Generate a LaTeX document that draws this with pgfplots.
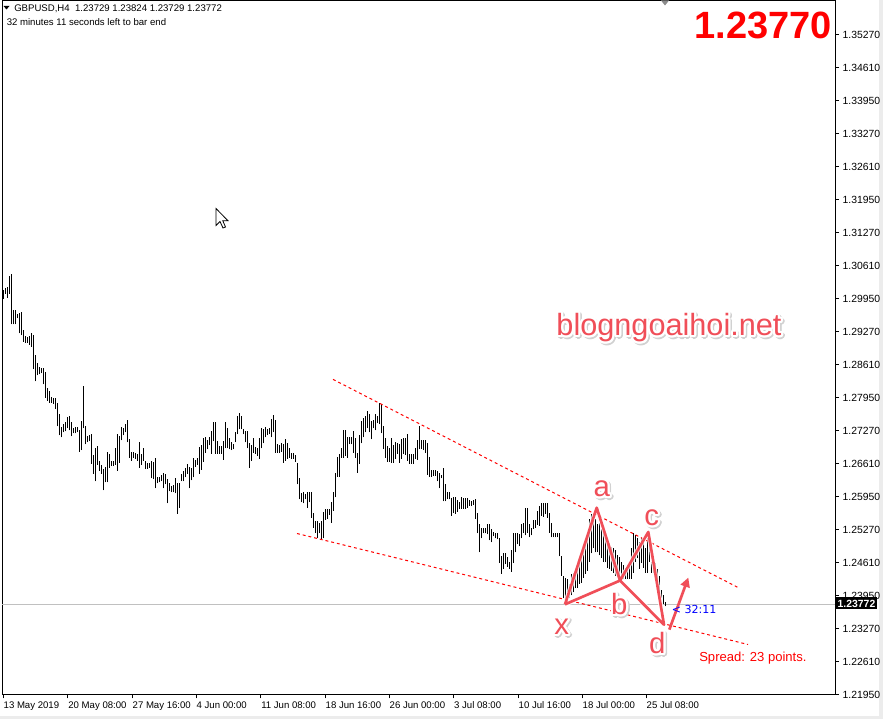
\documentclass[border=0pt]{standalone}
\usepackage{pgfplots}
\pgfplotsset{compat=1.18}
\usepackage{pgfplotstable}
\usepackage{fontspec}
\setmainfont{Liberation Sans}
\newfontfamily\dejavu{DejaVu Sans}
\usepackage[copies]{contour}
\usetikzlibrary{arrows.meta}

\definecolor{mtred}{RGB}{240,78,88}
\definecolor{pricegray}{RGB}{192,192,192}
\definecolor{framegray}{RGB}{236,236,236}

% H4 bars, high and low, index = bar number from 13 May 2019 00:00
\pgfplotstableread{
i hi lo
0 1.3012 1.2994
1 1.3016 1.3004
2 1.3018 1.2996
3 1.3039 1.3004
4 1.3043 1.2942
5 1.2972 1.2942
6 1.2972 1.2942
7 1.2962 1.2954
8 1.2964 1.2924
9 1.2966 1.2920
10 1.2930 1.2907
11 1.2918 1.2905
12 1.2916 1.2905
13 1.2918 1.2901
14 1.2924 1.2897
15 1.2920 1.2851
16 1.2881 1.2827
17 1.2865 1.2839
18 1.2855 1.2841
19 1.2853 1.2843
20 1.2853 1.2821
21 1.2845 1.2794
22 1.2813 1.2788
23 1.2807 1.2784
24 1.2796 1.2784
25 1.2794 1.2782
26 1.2794 1.2772
27 1.2784 1.2736
28 1.2762 1.2718
29 1.2734 1.2714
30 1.2740 1.2724
31 1.2744 1.2726
32 1.2756 1.2732
33 1.2758 1.2728
34 1.2746 1.2716
35 1.2732 1.2722
36 1.2734 1.2722
37 1.2734 1.2724
38 1.2728 1.2685
39 1.2748 1.2688
40 1.2817 1.2732
41 1.2736 1.2700
42 1.2716 1.2704
43 1.2718 1.2706
44 1.2720 1.2661
45 1.2679 1.2641
46 1.2692 1.2625
47 1.2696 1.2659
48 1.2667 1.2647
49 1.2659 1.2641
50 1.2651 1.2607
51 1.2655 1.2623
52 1.2685 1.2623
53 1.2681 1.2653
54 1.2667 1.2657
55 1.2667 1.2657
56 1.2692 1.2659
57 1.2720 1.2647
58 1.2716 1.2663
59 1.2734 1.2708
60 1.2732 1.2718
61 1.2740 1.2724
62 1.2750 1.2704
63 1.2710 1.2673
64 1.2685 1.2667
65 1.2685 1.2673
66 1.2683 1.2671
67 1.2681 1.2667
68 1.2704 1.2653
69 1.2681 1.2659
70 1.2692 1.2667
71 1.2667 1.2651
72 1.2663 1.2651
73 1.2663 1.2653
74 1.2667 1.2631
75 1.2665 1.2629
76 1.2673 1.2611
77 1.2635 1.2621
78 1.2635 1.2623
79 1.2639 1.2625
80 1.2643 1.2611
81 1.2641 1.2619
82 1.2629 1.2581
83 1.2621 1.2605
84 1.2615 1.2603
85 1.2617 1.2603
86 1.2631 1.2601
87 1.2621 1.2560
88 1.2621 1.2572
89 1.2641 1.2625
90 1.2647 1.2625
91 1.2653 1.2633
92 1.2661 1.2641
93 1.2655 1.2611
94 1.2653 1.2627
95 1.2673 1.2633
96 1.2669 1.2655
97 1.2673 1.2659
98 1.2694 1.2641
99 1.2698 1.2649
100 1.2712 1.2665
101 1.2714 1.2683
102 1.2708 1.2690
103 1.2714 1.2698
104 1.2726 1.2681
105 1.2746 1.2706
106 1.2744 1.2681
107 1.2706 1.2681
108 1.2696 1.2681
109 1.2696 1.2681
110 1.2706 1.2669
111 1.2744 1.2692
112 1.2732 1.2692
113 1.2712 1.2690
114 1.2704 1.2688
115 1.2700 1.2690
116 1.2724 1.2704
117 1.2758 1.2720
118 1.2764 1.2730
119 1.2758 1.2730
120 1.2730 1.2720
121 1.2726 1.2704
122 1.2726 1.2692
123 1.2702 1.2653
124 1.2698 1.2667
125 1.2712 1.2683
126 1.2694 1.2681
127 1.2692 1.2677
128 1.2712 1.2671
129 1.2732 1.2692
130 1.2730 1.2702
131 1.2734 1.2714
132 1.2730 1.2718
133 1.2732 1.2720
134 1.2752 1.2714
135 1.2760 1.2724
136 1.2750 1.2683
137 1.2700 1.2683
138 1.2698 1.2683
139 1.2702 1.2685
140 1.2700 1.2663
141 1.2710 1.2667
142 1.2702 1.2671
143 1.2692 1.2673
144 1.2683 1.2671
145 1.2683 1.2671
146 1.2679 1.2665
147 1.2663 1.2619
148 1.2631 1.2589
149 1.2601 1.2583
150 1.2603 1.2581
151 1.2599 1.2589
152 1.2603 1.2572
153 1.2603 1.2583
154 1.2603 1.2552
155 1.2562 1.2532
156 1.2546 1.2522
157 1.2546 1.2510
158 1.2542 1.2520
159 1.2546 1.2508
160 1.2564 1.2510
161 1.2570 1.2548
162 1.2570 1.2550
163 1.2570 1.2558
164 1.2583 1.2542
165 1.2603 1.2566
166 1.2643 1.2593
167 1.2675 1.2635
168 1.2681 1.2635
169 1.2692 1.2673
170 1.2728 1.2673
171 1.2728 1.2677
172 1.2714 1.2673
173 1.2714 1.2700
174 1.2714 1.2700
175 1.2726 1.2683
176 1.2712 1.2673
177 1.2683 1.2643
178 1.2718 1.2661
179 1.2748 1.2702
180 1.2754 1.2714
181 1.2758 1.2724
182 1.2768 1.2732
183 1.2762 1.2724
184 1.2748 1.2710
185 1.2750 1.2732
186 1.2762 1.2728
187 1.2758 1.2742
188 1.2784 1.2740
189 1.2782 1.2722
190 1.2736 1.2690
191 1.2712 1.2673
192 1.2696 1.2665
193 1.2692 1.2665
194 1.2712 1.2663
195 1.2698 1.2663
196 1.2704 1.2671
197 1.2702 1.2681
198 1.2700 1.2663
199 1.2710 1.2671
200 1.2712 1.2681
201 1.2712 1.2679
202 1.2720 1.2667
203 1.2681 1.2661
204 1.2681 1.2661
205 1.2681 1.2661
206 1.2692 1.2671
207 1.2708 1.2669
208 1.2736 1.2690
209 1.2708 1.2690
210 1.2708 1.2688
211 1.2708 1.2683
212 1.2702 1.2639
213 1.2675 1.2635
214 1.2649 1.2635
215 1.2649 1.2637
216 1.2649 1.2637
217 1.2647 1.2625
218 1.2643 1.2611
219 1.2639 1.2631
220 1.2653 1.2585
221 1.2619 1.2585
222 1.2603 1.2589
223 1.2603 1.2589
224 1.2591 1.2556
225 1.2593 1.2562
226 1.2593 1.2560
227 1.2587 1.2564
228 1.2583 1.2570
229 1.2593 1.2570
230 1.2591 1.2570
231 1.2591 1.2570
232 1.2591 1.2572
233 1.2587 1.2575
234 1.2585 1.2575
235 1.2587 1.2577
236 1.2589 1.2550
237 1.2562 1.2520
238 1.2540 1.2482
239 1.2532 1.2510
240 1.2532 1.2520
241 1.2532 1.2520
242 1.2540 1.2518
243 1.2540 1.2506
244 1.2530 1.2502
245 1.2524 1.2514
246 1.2522 1.2510
247 1.2520 1.2508
248 1.2510 1.2460
249 1.2474 1.2439
250 1.2480 1.2449
251 1.2480 1.2458
252 1.2472 1.2453
253 1.2462 1.2449
254 1.2486 1.2443
255 1.2522 1.2460
256 1.2522 1.2482
257 1.2520 1.2498
258 1.2518 1.2494
259 1.2540 1.2510
260 1.2542 1.2522
261 1.2572 1.2516
262 1.2572 1.2522
263 1.2540 1.2512
264 1.2532 1.2516
265 1.2548 1.2530
266 1.2548 1.2532
267 1.2566 1.2538
268 1.2575 1.2536
269 1.2581 1.2556
270 1.2581 1.2554
271 1.2581 1.2560
272 1.2581 1.2552
273 1.2562 1.2522
274 1.2542 1.2512
275 1.2522 1.2512
276 1.2520 1.2512
277 1.2520 1.2512
278 1.2520 1.2474
279 1.2474 1.2435
280 1.2435 1.2389
281 1.2431 1.2379
282 1.2429 1.2401
283 1.2419 1.2389
284 1.2439 1.2395
285 1.2441 1.2401
286 1.2449 1.2409
287 1.2456 1.2411
288 1.2462 1.2419
289 1.2480 1.2421
290 1.2490 1.2431
291 1.2496 1.2439
292 1.2516 1.2445
293 1.2550 1.2462
294 1.2560 1.2480
295 1.2556 1.2490
296 1.2550 1.2482
297 1.2540 1.2482
298 1.2542 1.2476
299 1.2530 1.2470
300 1.2520 1.2462
301 1.2522 1.2462
302 1.2510 1.2451
303 1.2500 1.2449
304 1.2492 1.2445
305 1.2490 1.2441
306 1.2486 1.2435
307 1.2476 1.2435
308 1.2472 1.2429
309 1.2462 1.2425
310 1.2456 1.2429
311 1.2451 1.2429
312 1.2451 1.2429
313 1.2462 1.2429
314 1.2490 1.2429
315 1.2520 1.2441
316 1.2516 1.2462
317 1.2510 1.2470
318 1.2502 1.2449
319 1.2510 1.2460
320 1.2500 1.2451
321 1.2490 1.2441
322 1.2510 1.2441
323 1.2522 1.2462
324 1.2462 1.2441
325 1.2462 1.2441
326 1.2460 1.2429
327 1.2449 1.2409
328 1.2435 1.2395
329 1.2405 1.2389
330 1.2395 1.2378
331 1.2382 1.2373
}\bars

\begin{document}
\begin{tikzpicture}
% page = 883 x 719 px; the scope below measures in px from the top-left corner
\begin{scope}[x=0.75pt, y=-0.75pt, yshift=539.25pt]
\path[use as bounding box, fill=white] (0,0) rectangle (883,719);
\fill[framegray] (879,0) rectangle (883,719);
\fill[framegray] (0,716) rectangle (883,719);
\end{scope}

\begin{axis}[
  at={(1.5pt,18.75pt)}, anchor=south west,
  scale only axis, width=624.75pt, height=520.5pt,
  xmin=-0.5, xmax=416, ymin=1.21951, ymax=1.35956,
  axis line style={black, line width=0.75pt},
  tick align=outside, major tick length=3pt,
  tick style={black, line width=0.75pt},
  xtick pos=left, ytick pos=right,
  xtick={0,32.35,64.5,96.5,128.8,161,193,225.25,257.5,289.5,321.5},
  xticklabels={13 May 2019,20 May 08:00,27 May 16:00,4 Jun 00:00,11 Jun 08:00,18 Jun 16:00,26 Jun 00:00,3 Jul 08:00,10 Jul 16:00,18 Jul 00:00,25 Jul 08:00},
  ytick={1.21950,1.22616,...,1.35300},
  yticklabels={1.21950,1.22610,1.23270,1.23950,1.24610,1.25270,1.25950,1.26610,1.27270,1.27950,1.28610,1.29270,1.29950,1.30610,1.31270,1.31950,1.32610,1.33270,1.33950,1.34610,1.35270},
  yticklabel style={font=\fontsize{7.8}{9}\selectfont, anchor=west, inner sep=0pt, xshift=2.5pt},
  xticklabel style={font=\fontsize{7.2}{9}\selectfont, anchor=north west, inner sep=0pt, xshift=0.3pt, yshift=-2pt},
]
% current bid line
\addplot[pricegray, line width=0.75pt, forget plot] coordinates {(-0.5,1.23772) (416,1.23772)};

% OHLC bars (high-low)
\addplot[draw=none, mark=none, forget plot,
  error bars/.cd, y dir=plus, y explicit, error mark=none,
  error bar style={draw=black, line width=0.75pt}]
  table[x=i, y=lo, y error expr=\thisrow{hi}-\thisrow{lo}] {\bars};

% channel lines
\addplot[red, line width=0.75pt, dash pattern=on 2.2pt off 2.2pt] coordinates {(165,1.2831) (368.5,1.2409)};
\addplot[red, line width=0.75pt, dash pattern=on 2.2pt off 2.2pt] coordinates {(147,1.2520) (372.5,1.2296)};

% XABCD pattern
\addplot[white, opacity=0.8, line width=3.6pt, line join=round] coordinates {
  (281,1.2377) (296.85,1.2572) (308.5,1.2425) (322.65,1.2523) (330.5,1.2336) (308.5,1.2425) (281,1.2377)};
\addplot[mtred, line width=2pt, line join=round] coordinates {
  (281,1.2377) (296.85,1.2572) (308.5,1.2425) (322.65,1.2523) (330.5,1.2336) (308.5,1.2425) (281,1.2377)};
\addplot[mtred, line width=2pt, -{Triangle[length=7pt,width=7pt]}] coordinates {(333.15,1.2326) (342.65,1.2431)};
\end{axis}

\begin{scope}[x=0.75pt, y=-0.75pt, yshift=539.25pt]
% current price tag on the price scale
\fill[black] (836,597) rectangle (877,609);
\node[white, inner sep=0pt, font=\bfseries\fontsize{7.8}{9}\selectfont] at (856.5,603) {1.23772};

% header text
\fill[black] (3.5,5.5) -- (9.5,5.5) -- (6.5,9) -- cycle;
\node[anchor=base west, inner sep=0pt, font=\fontsize{7.2}{9}\selectfont] at (14,11.5) {GBPUSD,H4\ \ 1.23729 1.23824 1.23729 1.23772};
\node[anchor=base west, inner sep=0pt, font=\fontsize{7.2}{9}\selectfont] at (6.5,25) {32 minutes 11 seconds left to bar end};
\node[anchor=base east, inner sep=0pt, red, font=\bfseries\fontsize{28.5}{30}\selectfont] at (832,38) {1.23770};
\fill[black!45] (661,0) -- (669,0) -- (665,5) -- cycle;

% watermark and wave labels
\contourlength{1.6pt}
\foreach \t/\px/\py in {blogngoaihoi.net/669/335} {
  \node[anchor=base, inner sep=0pt, black!18, font=\fontsize{23}{25}\selectfont] at (\px+1.5,\py+1.5) {\contour{black!18}{\t}};
  \node[anchor=base, inner sep=0pt, mtred, font=\fontsize{23}{25}\selectfont] at (\px,\py) {\contour{white}{\t}};
}
\foreach \t/\px/\py in {a/601.7/496, b/619.3/614, c/651.7/525, x/561.7/634, d/657.3/653} {
  \node[anchor=base, inner sep=0pt, black!18, font=\fontsize{22}{24}\selectfont] at (\px+1.5,\py+1.5) {\contour{black!18}{\t}};
  \node[anchor=base, inner sep=0pt, mtred, font=\fontsize{22}{24}\selectfont] at (\px,\py) {\contour{white}{\t}};
}

% timer and spread
\node[anchor=base west, inner sep=0pt, blue, font=\dejavu\fontsize{8.3}{9}\selectfont] at (671.5,613) {< 32:11};
\node[anchor=base west, inner sep=0pt, red, font=\fontsize{9.8}{11}\selectfont] at (699,661) {Spread: 23 points.};

% mouse pointer
\filldraw[fill=white, draw=black, line width=0.6pt, line join=miter]
  (216,208) -- (216,225) -- (220,221) -- (223,227.5) -- (225.5,226.5) -- (222.8,220.3) -- (228,220.3) -- cycle;
\end{scope}
\end{tikzpicture}
\end{document}
